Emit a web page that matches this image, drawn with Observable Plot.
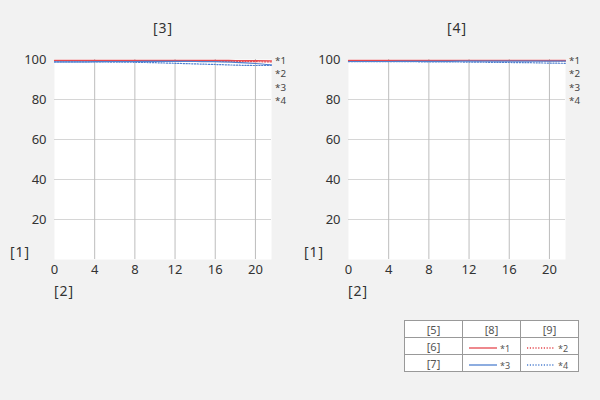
<!DOCTYPE html>
<html><head><meta charset="utf-8">
<script src="https://cdn.jsdelivr.net/npm/d3@7"></script>
<script src="https://cdn.jsdelivr.net/npm/@observablehq/plot@0.6"></script>
<style>
html,body{margin:0;padding:0;background:#f2f2f2;width:600px;height:400px;overflow:hidden;font-family:"Noto Sans",sans-serif;color:#333}
.abs{position:absolute;white-space:nowrap}
.lbl{font-size:14px;color:#333;letter-spacing:1px}
.ann{font-size:9.8px;color:#444;line-height:10px;height:10px}
table{border-collapse:collapse;font-size:11px;color:#555;background:#fff}
td{border:1px solid #999;height:16px;padding:0;text-align:center;width:57px}
</style></head>
<body>
<div id="root"></div>
<script>
const xs = [0, 2, 4, 6, 8, 10, 12, 14, 16, 18, 20, 21.6];
const xTicks = [0, 4, 8, 12, 16, 20];
const yTicks = [20, 40, 60, 80, 100];
const vGrid = [4, 8, 12, 16, 20];
const hGrid = [20, 40, 60, 80];
const panelTitles = ["[3]", "[4]"];
const seriesNames = ["*1", "*2", "*3", "*4"];
// left panel [3]
const left1 = [99.6, 99.6, 99.6, 99.6, 99.6, 99.6, 99.6, 99.6, 99.6, 99.5, 99.4, 99.3];
const left2 = [99.4, 99.4, 99.4, 99.4, 99.4, 99.3, 99.3, 99.2, 99.1, 99.0, 98.9, 98.8];
const left3 = [98.8, 98.8, 98.9, 99.0, 99.0, 99.1, 99.1, 99.0, 98.9, 98.6, 98.0, 97.3];
const left4 = [98.8, 98.8, 98.8, 98.7, 98.6, 98.4, 98.1, 97.8, 97.5, 97.2, 97.0, 97.0];
// right panel [4]
const right1 = [99.6, 99.6, 99.6, 99.6, 99.6, 99.6, 99.6, 99.6, 99.6, 99.6, 99.6, 99.6];
const right2 = [99.5, 99.5, 99.5, 99.5, 99.5, 99.5, 99.5, 99.4, 99.4, 99.4, 99.3, 99.3];
const right3 = [99.0, 99.0, 99.0, 99.1, 99.1, 99.1, 99.2, 99.2, 99.2, 99.2, 99.2, 99.2];
const right4 = [98.9, 98.9, 98.9, 98.9, 98.8, 98.8, 98.7, 98.6, 98.5, 98.4, 98.2, 98.1];
const legendHeader = ["[5]", "[8]", "[9]"];
const legendRows = ["[6]", "[7]"];

const RED = "#e5484f", BLUE = "#4f80d0";
const styles = [
  {stroke: RED, dash: null},
  {stroke: RED, dash: "1.2,1.6"},
  {stroke: BLUE, dash: null},
  {stroke: BLUE, dash: "1.2,1.6"}
];

function makePanel(series, left) {
  const marks = [
    Plot.frame({fill: "white", stroke: null}),
    Plot.ruleY(hGrid, {stroke: "#d6d6d6", strokeWidth: 1}),
    Plot.ruleX(vGrid, {stroke: "#bdbdbd", strokeWidth: 1}),
    Plot.axisX(xTicks, {tickSize: 0, tickPadding: 5, fontSize: 13, fill: "#333", label: null}),
    Plot.axisY(yTicks, {tickSize: 0, tickPadding: 8, fontSize: 13, fill: "#333", label: null})
  ];
  series.forEach((vals, i) => {
    const data = xs.map((x, j) => ({x, y: vals[j]}));
    marks.push(Plot.line(data, {x: "x", y: "y", stroke: styles[i].stroke, strokeWidth: 1.2,
      strokeDasharray: styles[i].dash, curve: "monotone-x"}));
  });
  const svg = Plot.plot({
    width: 300, height: 300,
    marginLeft: 54, marginRight: 29, marginTop: 59, marginBottom: 41,
    x: {domain: [0, 21.6]},
    y: {domain: [0, 100]},
    style: {background: "transparent", fontFamily: "Noto Sans, sans-serif", overflow: "visible"},
    marks
  });
  svg.style.position = "absolute";
  svg.style.left = left + "px";
  svg.style.top = "0px";
  return svg;
}

const root = document.getElementById("root");
root.appendChild(makePanel([left1, left2, left3, left4], 0));
root.appendChild(makePanel([right1, right2, right3, right4], 294));

function addText(txt, x, y, cls, anchor) {
  const d = document.createElement("div");
  d.className = "abs " + cls;
  d.textContent = txt;
  d.style.left = x + "px";
  d.style.top = y + "px";
  d.style.transform = anchor === "center" ? "translate(-50%,-50%)" : "translate(0,-50%)";
  root.appendChild(d);
}
[0, 294].forEach((off, p) => {
  addText(panelTitles[p], 163 + off, 27, "lbl", "center");
  addText("[1]", 20 + off, 251, "lbl", "center");
  addText("[2]", 64 + off, 290, "lbl", "center");
  const ys = [60.5, 74, 87.5, 101];
  seriesNames.forEach((s, i) => addText(s, 275 + off, ys[i], "ann", "left"));
});

// legend table
const tbl = document.createElement("table");
tbl.style.position = "absolute";
tbl.style.left = "404px";
tbl.style.top = "320px";
const hr = document.createElement("tr");
legendHeader.forEach(h => { const td = document.createElement("td"); td.textContent = h; hr.appendChild(td); });
tbl.appendChild(hr);
legendRows.forEach((r, ri) => {
  const tr = document.createElement("tr");
  const td0 = document.createElement("td"); td0.textContent = r; tr.appendChild(td0);
  [0, 1].forEach(c => {
    const idx = ri * 2 + c;
    const st = styles[idx];
    const td = document.createElement("td");
    td.innerHTML = `<svg width="50" height="12" style="vertical-align:middle"><line x1="2" y1="6" x2="30" y2="6" stroke="${st.stroke}" stroke-width="1.3" ${st.dash ? `stroke-dasharray="${st.dash}"` : ""}/><text x="33" y="10" font-size="9" fill="#555">${seriesNames[idx]}</text></svg>`;
    tr.appendChild(td);
  });
  tbl.appendChild(tr);
});
root.appendChild(tbl);
</script>
</body></html>
